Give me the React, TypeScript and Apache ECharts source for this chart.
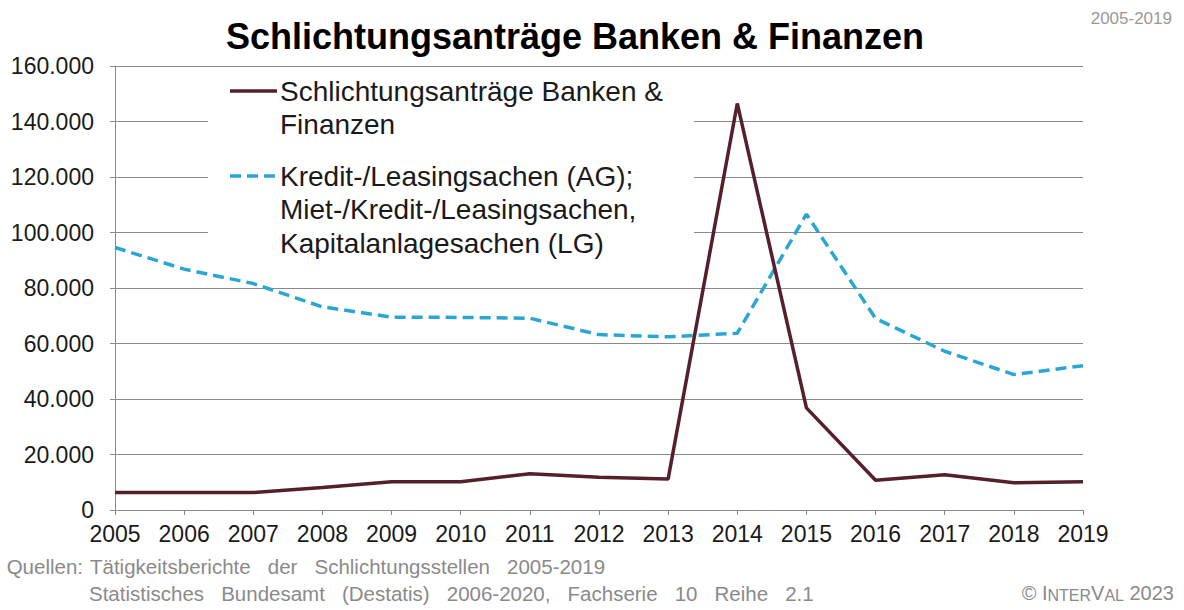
import React, { useEffect, useRef } from "react";
import * as echarts from "echarts";

const years = ["2005", "2006", "2007", "2008", "2009", "2010", "2011", "2012", "2013", "2014", "2015", "2016", "2017", "2018", "2019"];
const schlichtungValues = [6300, 6300, 6300, 8100, 10200, 10200, 13100, 11800, 11200, 146500, 36800, 10700, 12700, 9800, 10200];
const kreditValues = [94600, 86800, 81600, 73200, 69500, 69400, 69100, 63200, 62400, 63700, 106600, 69000, 57200, 48800, 52000];

const seriesNames = [
  "Schlichtungsanträge Banken &\nFinanzen",
  "Kredit-/Leasingsachen (AG);\nMiet-/Kredit-/Leasingsachen,\nKapitalanlagesachen (LG)",
];
const titleText = "Schlichtungsanträge Banken & Finanzen";
const periodText = "2005-2019";
const sourceLabel = "Quellen:";
const sourceLine1 = "Tätigkeitsberichte   der   Schlichtungsstellen   2005-2019";
const sourceLine2 = "Statistisches   Bundesamt   (Destatis)   2006-2020,   Fachserie   10   Reihe   2.1";

const MAROON = "#55202c";
const BLUE = "#2ba6d2";
const GRAY = "#8a8a8a";
const FONT = "'Liberation Sans', Arial, sans-serif";

export default function App() {
  const ref = useRef<HTMLDivElement>(null);

  useEffect(() => {
    if (!ref.current) return;
    const chart = echarts.init(ref.current, null, { renderer: "svg" });
    const fmt = (v: number) => (v === 0 ? "0" : v.toLocaleString("de-DE"));
    chart.setOption({
      animation: false,
      backgroundColor: "#ffffff",
      textStyle: { fontFamily: FONT },
      grid: { left: 115, right: 101, top: 66, bottom: 100, containLabel: false },
      xAxis: {
        type: "category",
        data: years,
        boundaryGap: false,
        axisLine: { show: true, lineStyle: { color: GRAY, width: 1 } },
        axisTick: { show: true, length: 5, alignWithLabel: true, lineStyle: { color: GRAY } },
        axisLabel: { color: "#1a1a1a", fontSize: 23, fontFamily: FONT, margin: 12 },
        splitLine: { show: false },
      },
      yAxis: {
        type: "value",
        min: 0,
        max: 160000,
        interval: 20000,
        axisLine: { show: true, lineStyle: { color: GRAY, width: 1 } },
        axisTick: { show: true, length: 5, lineStyle: { color: GRAY } },
        axisLabel: { color: "#1a1a1a", fontSize: 23, fontFamily: FONT, margin: 21, formatter: fmt },
        splitLine: { show: true, lineStyle: { color: GRAY, width: 1 } },
      },
      series: [
        {
          name: seriesNames[1],
          type: "line",
          data: kreditValues,
          showSymbol: false,
          symbol: "none",
          z: 2,
          lineStyle: { color: BLUE, width: 3.5, type: [11, 6], cap: "butt" },
        },
        {
          name: seriesNames[0],
          type: "line",
          data: schlichtungValues,
          showSymbol: false,
          symbol: "none",
          z: 3,
          lineStyle: { color: MAROON, width: 3.5 },
        },
      ],
      graphic: [
        {
          type: "text",
          x: 575,
          y: 36,
          z: 10,
          style: {
            text: titleText,
            fontSize: 36,
            fontWeight: "bold",
            fontFamily: FONT,
            fill: "#000000",
            align: "center",
            verticalAlign: "middle",
          },
        },
        {
          type: "text",
          x: 1172,
          y: 18,
          z: 10,
          style: {
            text: periodText,
            fontSize: 17,
            fontFamily: FONT,
            fill: "#999999",
            align: "right",
            verticalAlign: "middle",
          },
        },
        // legend background
        {
          type: "rect",
          z: 1,
          shape: { x: 208, y: 70, width: 486, height: 197 },
          style: { fill: "#ffffff" },
        },
        {
          type: "line",
          z: 10,
          shape: { x1: 230, y1: 91, x2: 277, y2: 91 },
          style: { stroke: MAROON, lineWidth: 3.5 },
        },
        {
          type: "text",
          x: 280,
          y: 74.5,
          z: 10,
          style: {
            text: seriesNames[0],
            fontSize: 28,
            lineHeight: 33,
            fontFamily: FONT,
            fill: "#1a1a1a",
            align: "left",
            verticalAlign: "top",
          },
        },
        {
          type: "line",
          z: 10,
          shape: { x1: 230, y1: 176, x2: 277, y2: 176 },
          style: { stroke: BLUE, lineWidth: 3.5, lineDash: [11, 6] },
        },
        {
          type: "text",
          x: 280,
          y: 159.5,
          z: 10,
          style: {
            text: seriesNames[1],
            fontSize: 28,
            lineHeight: 33.5,
            fontFamily: FONT,
            fill: "#1a1a1a",
            align: "left",
            verticalAlign: "top",
          },
        },
        // footer
        {
          type: "text",
          x: 83,
          y: 566,
          z: 10,
          style: {
            text: sourceLabel,
            fontSize: 20.5,
            fontFamily: FONT,
            fill: GRAY,
            align: "right",
            verticalAlign: "middle",
          },
        },
        {
          type: "text",
          x: 90,
          y: 566,
          z: 10,
          style: {
            text: sourceLine1,
            fontSize: 20.5,
            fontFamily: FONT,
            fill: GRAY,
            align: "left",
            verticalAlign: "middle",
          },
        },
        {
          type: "text",
          x: 89,
          y: 593,
          z: 10,
          style: {
            text: sourceLine2,
            fontSize: 20.5,
            fontFamily: FONT,
            fill: GRAY,
            align: "left",
            verticalAlign: "middle",
          },
        },
        {
          type: "text",
          x: 1174,
          y: 593,
          z: 10,
          style: {
            text: "{n|© I}{s|NTER}{n|V}{s|AL}{n| 2023}",
            align: "right",
            verticalAlign: "middle",
            rich: {
              n: { fontSize: 20, fontFamily: FONT, fill: GRAY, color: GRAY, verticalAlign: "bottom" },
              s: { fontSize: 16, fontFamily: FONT, fill: GRAY, color: GRAY, verticalAlign: "bottom" },
            },
          },
        },
      ],
    });
    return () => chart.dispose();
  }, []);

  return (
    <div
      ref={ref}
      style={{ position: "fixed", left: 0, top: 0, width: 1184, height: 610, background: "#ffffff" }}
    />
  );
}
